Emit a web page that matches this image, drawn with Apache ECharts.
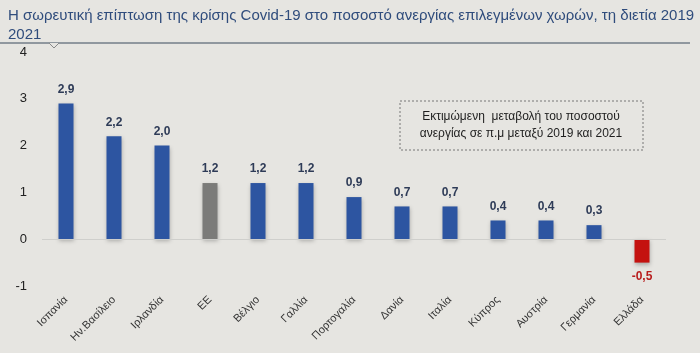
<!DOCTYPE html>
<html><head><meta charset="utf-8">
<script src="https://cdn.jsdelivr.net/npm/echarts@6/dist/echarts.min.js"></script>
<style>html,body{margin:0;padding:0;background:#e6e5e1}#c{width:700px;height:353px}</style>
</head><body><div id="c"></div>
<script>
const categories = ['Ισπανία','Ην.Βασίλειο','Ιρλανδία','ΕΕ','Βέλγιο','Γαλλία','Πορτογαλία','Δανία','Ιταλία','Κύπρος','Αυστρία','Γερμανία','Ελλάδα'];
const values = [2.9, 2.2, 2.0, 1.2, 1.2, 1.2, 0.9, 0.7, 0.7, 0.4, 0.4, 0.3, -0.5];
const yTicks = [-1, 0, 1, 2, 3, 4];
const titleText = 'Η σωρευτική επίπτωση της κρίσης Covid-19 στο ποσοστό ανεργίας επιλεγμένων χωρών, τη διετία 2019\n2021';
const noteText = 'Εκτιμώμενη  μεταβολή του ποσοστού\nανεργίας σε π.μ μεταξύ 2019 και 2021';

const colorFor = (name, v) => name === 'ΕΕ' ? '#7b7b79' : (v < 0 ? '#c4120f' : '#2d55a1');
const chart = echarts.init(document.getElementById('c'));
chart.setOption({
  backgroundColor: '#e6e5e1',
  textStyle: { fontFamily: 'Liberation Sans, Arial, sans-serif' },
  title: {
    text: titleText, left: 3, top: 1,
    textStyle: { fontSize: 15, fontWeight: 'normal', color: '#2f4c7c', lineHeight: 19 }
  },
  grid: { left: 42, right: 34, top: 52, bottom: 67 },
  xAxis: {
    type: 'category', data: categories,
    axisLine: { show: false }, axisTick: { show: false },
    axisLabel: { rotate: 45, fontSize: 11, color: '#333', margin: 12, interval: 0 }
  },
  yAxis: {
    type: 'value', min: yTicks[0], max: yTicks[yTicks.length - 1], interval: 1,
    axisLine: { show: false }, axisTick: { show: false }, splitLine: { show: false },
    axisLabel: { fontSize: 13, color: '#222', margin: 15 }
  },
  graphic: [
    { type: 'line', shape: { x1: 0, y1: 43, x2: 690, y2: 43 }, style: { stroke: '#3b4a5c', lineWidth: 1 } },
    { type: 'polyline', shape: { points: [[49, 43], [54, 48], [59, 43]] }, style: { stroke: '#888', fill: '#e6e5e1', lineWidth: 1 } },
    { type: 'rect', shape: { x: 400, y: 101, width: 243, height: 49 }, style: { fill: 'none', stroke: '#777', lineWidth: 1, lineDash: [2, 2] } },
    { type: 'text', x: 521, y: 125, style: { text: noteText, align: 'center', verticalAlign: 'middle', fontSize: 12, lineHeight: 17, fill: '#1e1e1e', fontFamily: 'Liberation Sans, Arial, sans-serif' } }
  ],
  series: [{
    type: 'bar', barWidth: 15,
    data: values.map((v, i) => ({
      value: v,
      itemStyle: { color: colorFor(categories[i], v) },
      label: v < 0 ? { position: 'bottom', color: '#b81c1c' } : { position: 'top', color: '#2e3b57' }
    })),
    itemStyle: { shadowColor: 'rgba(0,0,0,0.25)', shadowBlur: 4, shadowOffsetY: 2 },
    label: {
      show: true, fontSize: 12, fontWeight: 'bold', distance: 8,
      formatter: p => p.value.toFixed(1).replace('.', ',')
    },
    markLine: {
      silent: true, symbol: 'none', label: { show: false },
      lineStyle: { color: '#cfcfcc', type: 'solid', width: 1 },
      data: [{ yAxis: 0 }]
    }
  }]
});
</script></body></html>
